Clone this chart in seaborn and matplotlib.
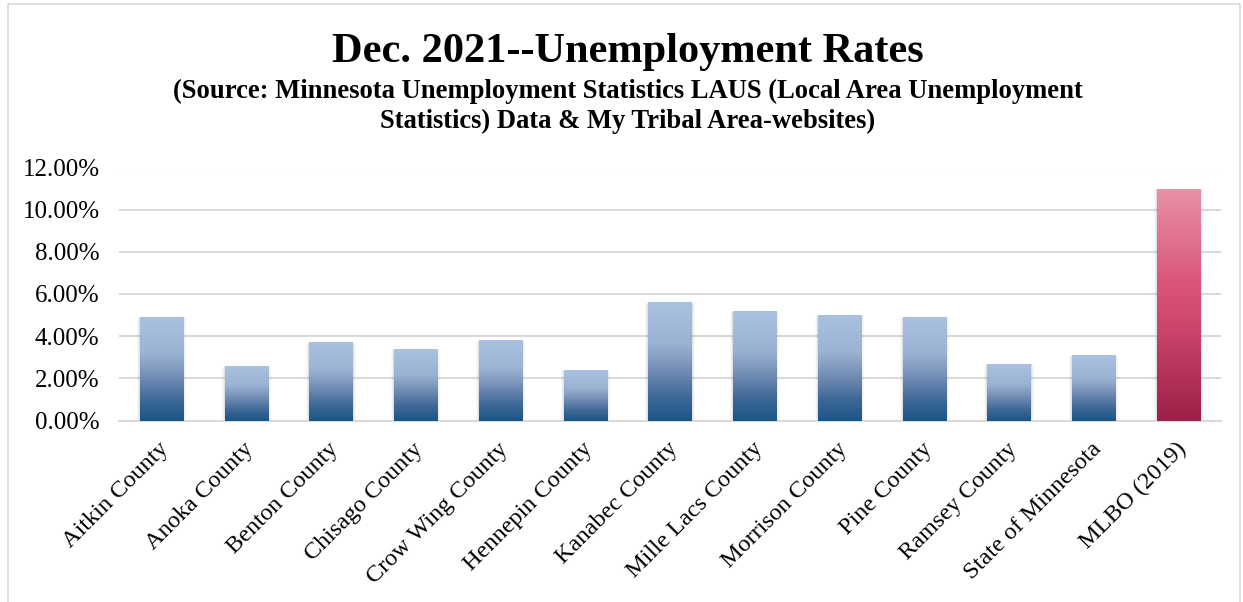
import numpy as np
import pandas as pd
import matplotlib
matplotlib.use("Agg")
import matplotlib.pyplot as plt
import matplotlib.transforms as mtransforms
from matplotlib.colors import LinearSegmentedColormap
from matplotlib.patches import Rectangle
from matplotlib.ticker import FuncFormatter
import seaborn as sns

categories = ["Aitkin County", "Anoka County", "Benton County", "Chisago County",
              "Crow Wing County", "Hennepin County", "Kanabec County", "Mille Lacs County",
              "Morrison County", "Pine County", "Ramsey County", "State of Minnesota",
              "MLBO (2019)"]
rates = [0.049, 0.026, 0.037, 0.034, 0.038, 0.024, 0.056, 0.052, 0.050, 0.049,
         0.027, 0.031, 0.110]
groups = ["county"] * 12 + ["tribal"]
yticks = [0.0, 0.02, 0.04, 0.06, 0.08, 0.10, 0.12]

title = "Dec. 2021--Unemployment Rates"
subtitle = ("(Source: Minnesota Unemployment Statistics LAUS (Local Area Unemployment\n"
            "Statistics) Data & My Tribal Area-websites)")

df = pd.DataFrame({"category": categories, "rate": rates, "group": groups})

sns.set_theme(style="white")
plt.rcParams["font.family"] = ["Liberation Serif", "DejaVu Serif"]
plt.rcParams["text.color"] = "black"

fig = plt.figure(figsize=(12.43, 6.02), dpi=100)
ax = fig.add_axes([119 / 1243, 1 - 420.5 / 602, (1221 - 119) / 1243, (420.5 - 167.5) / 602])

sns.barplot(data=df, x="category", y="rate", hue="group",
            palette={"county": "#7891b8", "tribal": "#d64d73"},
            width=0.51, dodge=False, legend=False, ax=ax, zorder=3)

blue_cmap = LinearSegmentedColormap.from_list(
    "blue", [(0.0, "#195687"), (0.2, "#3e6896"), (0.45, "#7891b8"),
             (0.65, "#9bb3d2"), (1.0, "#aac1e0")])
red_cmap = LinearSegmentedColormap.from_list(
    "red", [(0.0, "#9c2048"), (0.45, "#d04a70"), (0.6, "#d9557a"), (1.0, "#e893a7")])

grad = np.linspace(0, 1, 256).reshape(-1, 1)
bars = [p for p in ax.patches if p.get_height() > 0]
for p in bars:
    x0, y0 = p.get_x(), p.get_y()
    w, h = p.get_width(), p.get_height()
    cmap = red_cmap if h > 0.09 else blue_cmap
    for k, a in enumerate([0.06, 0.04, 0.025]):
        sh = Rectangle((x0 - 0.012 * (k + 1), y0 - 0.0004 * (k + 1)),
                       w + 0.024 * (k + 1), h + 0.0002 * (k + 1),
                       facecolor="black", alpha=a, edgecolor="none", zorder=2)
        ax.add_patch(sh)
    im = ax.imshow(grad, cmap=cmap, origin="lower", aspect="auto",
                   extent=(x0, x0 + w, y0, y0 + h), zorder=4, interpolation="bilinear")
    im.set_clip_path(p)
    p.set_edgecolor("none")

ax.set_xlim(-0.5, len(categories) - 0.5)
ax.set_ylim(0, 0.12)
ax.set_yticks(yticks)
ax.yaxis.set_major_formatter(FuncFormatter(lambda v, _: f"{v * 100:.2f}%"))
ax.grid(axis="y", color="#d9d9d9", linewidth=1.5, zorder=0)
ax.set_axisbelow(True)
for s in ["top", "right", "left"]:
    ax.spines[s].set_visible(False)
ax.spines["bottom"].set_color("#d9d9d9")
ax.spines["bottom"].set_linewidth(1.5)
ax.set_xlabel("")
ax.set_ylabel("")
ax.tick_params(axis="y", labelsize=18, length=0, pad=14, labelcolor="black")
ax.tick_params(axis="x", labelsize=17.5, length=0, pad=13, labelcolor="black")
ax.set_xticks(range(len(categories)))
ax.set_xticklabels(categories, rotation=45, ha="right", va="top",
                   rotation_mode="anchor")
for lbl in ax.get_xticklabels():
    lbl.set_transform(lbl.get_transform() +
                      mtransforms.ScaledTranslation(-3 / 100, 0, fig.dpi_scale_trans))

fig.text(0.505, 0.914, title, ha="center", va="center", fontsize=30.5,
         fontweight="bold", color="black")
fig.text(0.505, 0.823, subtitle, ha="center", va="center", fontsize=19.2,
         fontweight="bold", linespacing=1.22, color="black")

border = Rectangle((8 / 1243, -0.01), (1240 - 8) / 1243, 1 - 4 / 602 + 0.01,
                   transform=fig.transFigure, fill=False, edgecolor="#d9d9d9",
                   linewidth=1.2)
fig.patches.append(border)

fig.savefig("out.png", dpi=100)
